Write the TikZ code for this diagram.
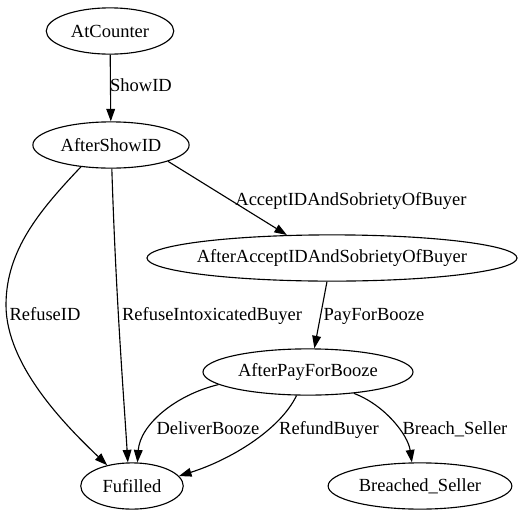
\documentclass[tikz,border=0pt]{standalone}
\usepackage{fontspec}
\setmainfont{Liberation Serif}
\usetikzlibrary{arrows.meta,shapes.geometric}
\tikzset{
  >={Triangle[length=10pt,width=7pt]},
  st/.style={ellipse,draw,line width=0.9pt,inner sep=0pt,minimum height=37pt,font=\fontsize{14.8}{17}\selectfont},
  tr/.style={->, line width=0.9pt},
  lbl/.style={inner sep=0pt,text height=10pt,text depth=3pt,font=\fontsize{14.8}{17}\selectfont}
}

\begin{document}
\begin{tikzpicture}[x=0.8pt, y=-0.8pt]
    \useasboundingbox (0,0) rectangle (524,517);
    \node[st, minimum width=102pt] (counter) at (110, 31) {AtCounter};
    \node[st, minimum width=125pt] (showid) at (111, 145) {AfterShowID};
    \node[st, minimum width=296pt, inner xsep=-10pt] (accept) at (332, 258) {AfterAcceptIDAndSobrietyOfBuyer};
    \node[st, minimum width=168pt, inner xsep=-2pt] (pay) at (308, 372) {AfterPayForBooze};
    \node[st, minimum width=82pt] (fufilled) at (132, 486) {Fufilled};
    \node[st, minimum width=147pt] (breached) at (420, 486) {Breached\_Seller};
    \draw[tr] (counter) -- (showid);
    \draw[tr] (showid.-16) -- (accept.153);
    \draw[tr] (showid.216) .. controls (40,210) and (6,250) .. (6,305)
        .. controls (6,365) and (65,425) .. (fufilled.140);
    \draw[tr] (showid.-88) .. controls (116,300) and (124,400) .. (fufilled.100);
    \draw[tr] (accept.-102) -- (pay.75);
    \draw[tr] (pay.188) .. controls (175,395) and (140,425) .. (fufilled.77);
    \draw[tr] (pay.-116) .. controls (280,430) and (230,460) .. (fufilled.12);
    \draw[tr] (pay.-25) .. controls (385,405) and (408,435) .. (breached.109);
    \node[lbl] (lshowid) at (141, 87) {ShowID};
    \node[lbl] (laccept) at (351, 201) {AcceptIDAndSobrietyOfBuyer};
    \node[lbl] (lrefuse) at (45, 316) {RefuseID};
    \node[lbl] (lintox) at (212, 316) {RefuseIntoxicatedBuyer};
    \node[lbl] (lpay) at (374, 316) {PayForBooze};
    \node[lbl] (ldeliver) at (208, 430) {DeliverBooze};
    \node[lbl] (lrefund) at (329, 430) {RefundBuyer};
    \node[lbl] (lbreach) at (455, 430) {Breach\_Seller};
\end{tikzpicture}
\end{document}
